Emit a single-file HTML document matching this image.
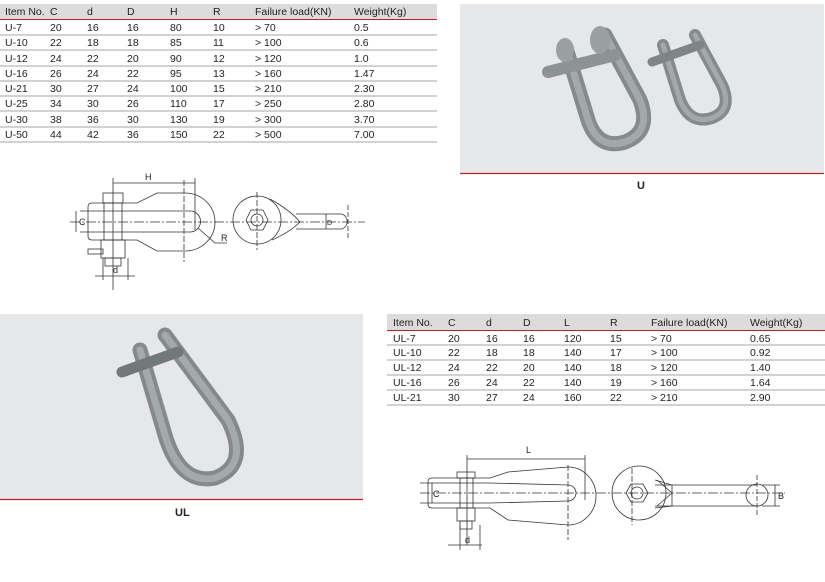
<!DOCTYPE html>
<html><head><meta charset="utf-8"><style>
body{margin:0;width:825px;height:582px;background:#fff;position:relative;overflow:hidden;font-family:"Liberation Sans",sans-serif;color:#222}
</style></head><body>
<svg width="825" height="582" style="position:absolute;left:0;top:0" font-family="Liberation Sans" font-size="10.5" fill="#222">
<!-- table 1 -->
<rect x="0" y="4" width="437" height="15" fill="#dcdcdc"/>
<line x1="0" y1="19.5" x2="437" y2="19.5" stroke="#b22" stroke-width="1"/>
<g stroke="#888" stroke-width="0.8">
<line x1="0" y1="35" x2="437" y2="35"/><line x1="0" y1="50" x2="437" y2="50"/><line x1="0" y1="66" x2="437" y2="66"/><line x1="0" y1="81" x2="437" y2="81"/><line x1="0" y1="96" x2="437" y2="96"/><line x1="0" y1="111" x2="437" y2="111"/><line x1="0" y1="127" x2="437" y2="127"/><line x1="0" y1="142" x2="437" y2="142"/>
</g>
<g>
<text x="5" y="15">Item No.</text><text x="50" y="15">C</text><text x="87" y="15">d</text><text x="127" y="15">D</text><text x="170" y="15">H</text><text x="213" y="15">R</text><text x="255" y="15">Failure load(KN)</text><text x="354" y="15">Weight(Kg)</text>
<text x="5" y="31">U-7</text><text x="50" y="31">20</text><text x="87" y="31">16</text><text x="127" y="31">16</text><text x="170" y="31">80</text><text x="213" y="31">10</text><text x="255" y="31">&gt; 70</text><text x="354" y="31">0.5</text>
<text x="5" y="46">U-10</text><text x="50" y="46">22</text><text x="87" y="46">18</text><text x="127" y="46">18</text><text x="170" y="46">85</text><text x="213" y="46">11</text><text x="255" y="46">&gt; 100</text><text x="354" y="46">0.6</text>
<text x="5" y="62">U-12</text><text x="50" y="62">24</text><text x="87" y="62">22</text><text x="127" y="62">20</text><text x="170" y="62">90</text><text x="213" y="62">12</text><text x="255" y="62">&gt; 120</text><text x="354" y="62">1.0</text>
<text x="5" y="77">U-16</text><text x="50" y="77">26</text><text x="87" y="77">24</text><text x="127" y="77">22</text><text x="170" y="77">95</text><text x="213" y="77">13</text><text x="255" y="77">&gt; 160</text><text x="354" y="77">1.47</text>
<text x="5" y="92">U-21</text><text x="50" y="92">30</text><text x="87" y="92">27</text><text x="127" y="92">24</text><text x="170" y="92">100</text><text x="213" y="92">15</text><text x="255" y="92">&gt; 210</text><text x="354" y="92">2.30</text>
<text x="5" y="107">U-25</text><text x="50" y="107">34</text><text x="87" y="107">30</text><text x="127" y="107">26</text><text x="170" y="107">110</text><text x="213" y="107">17</text><text x="255" y="107">&gt; 250</text><text x="354" y="107">2.80</text>
<text x="5" y="123">U-30</text><text x="50" y="123">38</text><text x="87" y="123">36</text><text x="127" y="123">30</text><text x="170" y="123">130</text><text x="213" y="123">19</text><text x="255" y="123">&gt; 300</text><text x="354" y="123">3.70</text>
<text x="5" y="138">U-50</text><text x="50" y="138">44</text><text x="87" y="138">42</text><text x="127" y="138">36</text><text x="170" y="138">150</text><text x="213" y="138">22</text><text x="255" y="138">&gt; 500</text><text x="354" y="138">7.00</text>
</g>
<!-- table 2 -->
<rect x="387" y="314" width="438" height="16" fill="#dcdcdc"/>
<line x1="387" y1="330.5" x2="825" y2="330.5" stroke="#b22"/>
<g stroke="#888" stroke-width="0.8">
<line x1="387" y1="345" x2="825" y2="345"/><line x1="387" y1="360" x2="825" y2="360"/><line x1="387" y1="375" x2="825" y2="375"/><line x1="387" y1="390" x2="825" y2="390"/><line x1="387" y1="405" x2="825" y2="405"/>
</g>
<g>
<text x="393" y="326">Item No.</text><text x="448" y="326">C</text><text x="486" y="326">d</text><text x="523" y="326">D</text><text x="564" y="326">L</text><text x="610" y="326">R</text><text x="651" y="326">Failure load(KN)</text><text x="750" y="326">Weight(Kg)</text>
<text x="393" y="342">UL-7</text><text x="448" y="342">20</text><text x="486" y="342">16</text><text x="523" y="342">16</text><text x="564" y="342">120</text><text x="610" y="342">15</text><text x="651" y="342">&gt; 70</text><text x="750" y="342">0.65</text>
<text x="393" y="356">UL-10</text><text x="448" y="356">22</text><text x="486" y="356">18</text><text x="523" y="356">18</text><text x="564" y="356">140</text><text x="610" y="356">17</text><text x="651" y="356">&gt; 100</text><text x="750" y="356">0.92</text>
<text x="393" y="371">UL-12</text><text x="448" y="371">24</text><text x="486" y="371">22</text><text x="523" y="371">20</text><text x="564" y="371">140</text><text x="610" y="371">18</text><text x="651" y="371">&gt; 120</text><text x="750" y="371">1.40</text>
<text x="393" y="386">UL-16</text><text x="448" y="386">26</text><text x="486" y="386">24</text><text x="523" y="386">22</text><text x="564" y="386">140</text><text x="610" y="386">19</text><text x="651" y="386">&gt; 160</text><text x="750" y="386">1.64</text>
<text x="393" y="401">UL-21</text><text x="448" y="401">30</text><text x="486" y="401">27</text><text x="523" y="401">24</text><text x="564" y="401">160</text><text x="610" y="401">22</text><text x="651" y="401">&gt; 210</text><text x="750" y="401">2.90</text>
</g>
<!-- photo U -->
<rect x="460" y="4" width="364" height="169" fill="#e6e7e8"/>
<line x1="460" y1="173.5" x2="824" y2="173.5" stroke="#b22" stroke-width="1.2"/>
<text x="637" y="189" font-weight="bold" font-size="11">U</text>
<g fill="none" stroke-linecap="round">
<path d="M566 48 L588 120 Q598 150 625 142 Q652 132 640 100 L605 35" stroke="#858a8d" stroke-width="15"/>
<path d="M566 48 L588 120 Q598 150 625 142 Q652 132 640 100 L605 35" stroke="#a3a8aa" stroke-width="7"/>
<path d="M548 72 L615 55" stroke="#8d9295" stroke-width="12"/>
<ellipse cx="600" cy="40" rx="10" ry="14" fill="#9a9fa2" stroke="none"/>
<ellipse cx="565" cy="50" rx="9" ry="12" fill="#9a9fa2" stroke="none"/>
<path d="M663 45 L680 100 Q690 125 712 118 Q733 110 722 85 L695 35" stroke="#858a8d" stroke-width="12"/>
<path d="M663 45 L680 100 Q690 125 712 118 Q733 110 722 85 L695 35" stroke="#a3a8aa" stroke-width="5"/>
<path d="M652 62 L700 45" stroke="#7f8487" stroke-width="9"/>
</g>
<!-- photo UL -->
<rect x="0" y="314" width="363" height="185" fill="#e6e7e8"/>
<line x1="0" y1="499.5" x2="363" y2="499.5" stroke="#b22" stroke-width="1.2"/>
<text x="175" y="516" font-weight="bold" font-size="11">UL</text>
<g fill="none" stroke-linecap="round">
<path d="M140 350 L165 435 Q180 485 215 478 Q250 465 228 420 L165 335" stroke="#848a8c" stroke-width="15"/>
<path d="M140 350 L165 435 Q180 485 215 478 Q250 465 228 420 L165 335" stroke="#a4aaac" stroke-width="7"/>
<path d="M122 372 L178 352" stroke="#71787a" stroke-width="11"/>
</g>
<!-- U drawing -->
<g fill="none" stroke="#333" stroke-width="0.8">
<line x1="113" y1="183" x2="195" y2="183"/><line x1="113" y1="178" x2="113" y2="290"/><line x1="195" y1="178" x2="195" y2="230"/>
<path d="M92 203 L137 203 L157 193 L185 193 A30 29 0 1 1 185 251 L157 251 L137 240 L92 240 Q88 240 88 236 L88 207 Q88 203 92 203 Z"/>
<path d="M80 211 L190 211 A10.5 10.5 0 0 1 190 232 L80 232"/>
<rect x="103" y="193" width="20" height="10"/><rect x="104" y="203" width="18" height="37"/>
<rect x="101" y="240" width="24" height="18"/><rect x="105" y="258" width="16" height="8"/>
<rect x="88" y="249" width="15" height="5"/>
<line x1="184" y1="180" x2="184" y2="262" stroke-dasharray="6,2"/>
<line x1="76" y1="211" x2="76" y2="232"/>
<line x1="103" y1="258" x2="103" y2="280"/><line x1="128" y1="258" x2="128" y2="280"/><line x1="95" y1="276" x2="135" y2="276"/>
<path d="M198 228 L215 243 L227 243"/>
<line x1="70" y1="222" x2="365" y2="222" stroke-dasharray="10,2,2,2"/>
<circle cx="257" cy="220" r="24"/>
<path d="M270 199 Q290 210 300 222 Q290 232 272 240"/>
<path d="M296 214 L342 214 A8 8 0 0 1 342 229 L296 229"/>
<polygon points="251,210 263,210 268,220 263,230 251,230 246,220"/>
<circle cx="257" cy="220" r="6"/>
<line x1="257" y1="192" x2="257" y2="250" stroke-dasharray="6,2"/>
<line x1="326" y1="214" x2="326" y2="229"/><line x1="348" y1="205" x2="348" y2="240" stroke-dasharray="5,2"/>
</g>
<g font-size="9"><text x="145" y="180">H</text><text x="221" y="241">R</text><text x="113" y="273">d</text><text x="79" y="225">C</text><text x="327" y="225" font-size="7">D</text></g>
<!-- UL drawing -->
<g fill="none" stroke="#333" stroke-width="0.8">
<line x1="467" y1="459" x2="585" y2="459"/><line x1="467" y1="455" x2="467" y2="545"/><line x1="585" y1="455" x2="585" y2="500"/>
<path d="M432 478 L490 478 L508 472 L568 467 A28 29 0 1 1 568 525 L508 520 L490 508 L432 508 Q428 508 428 504 L428 482 Q428 478 432 478 Z"/>
<path d="M420 483 L490 483 L568 485 A8 8 0 0 1 568 501 L490 503 L420 503"/>
<rect x="457" y="472" width="18" height="6"/><rect x="460" y="478" width="13" height="30"/>
<rect x="457" y="508" width="18" height="13"/><rect x="460" y="521" width="12" height="8"/>
<line x1="568" y1="465" x2="568" y2="540" stroke-dasharray="6,2"/>
<line x1="432" y1="483" x2="432" y2="503"/>
<line x1="460" y1="525" x2="460" y2="550"/><line x1="480" y1="525" x2="480" y2="550"/><line x1="448" y1="545" x2="482" y2="545"/>
<line x1="420" y1="493" x2="785" y2="493" stroke-dasharray="10,2,2,2"/>
<circle cx="639" cy="493" r="27"/>
<polygon points="631,484 643,484 648,493 643,502 631,502 626,493"/><circle cx="637" cy="493" r="6"/>
<line x1="632" y1="468" x2="632" y2="525" stroke-dasharray="6,2"/>
<path d="M655 480 L672 485 L672 506 L655 508"/>
<path d="M657 480 L672 493 L657 506"/>
<line x1="655" y1="485" x2="757" y2="485"/><line x1="655" y1="506" x2="757" y2="506"/>
<circle cx="757" cy="495" r="11"/>
<line x1="757" y1="475" x2="757" y2="515" stroke-dasharray="5,2"/>
<line x1="762" y1="485" x2="780" y2="485"/><line x1="762" y1="506" x2="780" y2="506"/><line x1="775" y1="485" x2="775" y2="506"/>
</g>
<g font-size="9"><text x="526" y="453">L</text><text x="465" y="543">d</text><text x="433" y="497">C</text><text x="778" y="499">B</text></g>
</svg>
</body></html>
